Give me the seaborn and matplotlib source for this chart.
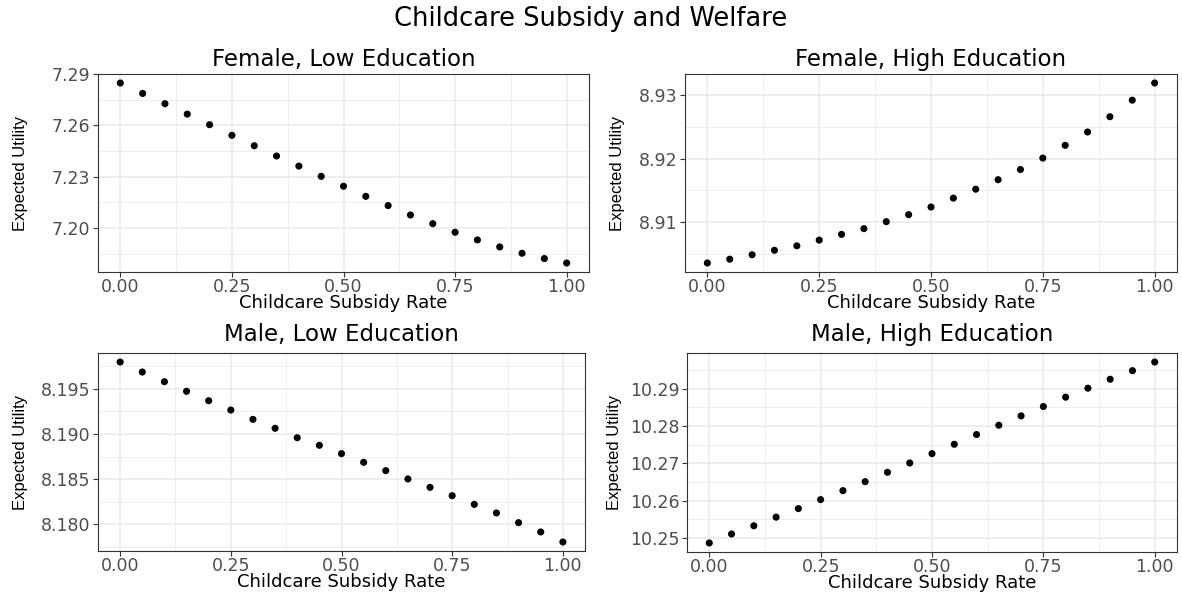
import numpy as np
import pandas as pd
import seaborn as sns
import matplotlib.pyplot as plt
from matplotlib.ticker import FixedLocator, FormatStrFormatter

# Childcare subsidy rates evaluated
subsidy_rate = [0.00, 0.05, 0.10, 0.15, 0.20, 0.25, 0.30, 0.35, 0.40, 0.45, 0.50,
                0.55, 0.60, 0.65, 0.70, 0.75, 0.80, 0.85, 0.90, 0.95, 1.00]

# Expected utility by group
female_low = [7.2848, 7.2787, 7.2727, 7.2666, 7.2604, 7.2542, 7.2481, 7.2421, 7.2362,
              7.2302, 7.2244, 7.2185, 7.2131, 7.2076, 7.2025, 7.1975, 7.1930, 7.1889,
              7.1852, 7.1821, 7.1795]
female_high = [8.9036, 8.9042, 8.9049, 8.9056, 8.9063, 8.9072, 8.9081, 8.9090, 8.9101,
               8.9112, 8.9124, 8.9138, 8.9152, 8.9167, 8.9183, 8.9201, 8.9221, 8.9242,
               8.9266, 8.9292, 8.9319]
male_low = [8.19795, 8.19684, 8.19577, 8.19471, 8.19367, 8.19264, 8.19161, 8.19062,
            8.18958, 8.18874, 8.18782, 8.18686, 8.18594, 8.18502, 8.18409, 8.18317,
            8.18221, 8.18126, 8.18019, 8.17916, 8.17805]
male_high = [10.2487, 10.2511, 10.2533, 10.2556, 10.2579, 10.2603, 10.2627, 10.2651,
             10.2676, 10.2701, 10.2726, 10.2751, 10.2777, 10.2802, 10.2827, 10.2852,
             10.2877, 10.2901, 10.2925, 10.2948, 10.2971]

panel_titles = ["Female, Low Education", "Female, High Education",
                "Male, Low Education", "Male, High Education"]
x_ticks = [0.00, 0.25, 0.50, 0.75, 1.00]
y_ticks = [[7.20, 7.23, 7.26, 7.29],
           [8.91, 8.92, 8.93],
           [8.180, 8.185, 8.190, 8.195],
           [10.25, 10.26, 10.27, 10.28, 10.29]]
y_formats = ["%.2f", "%.2f", "%.3f", "%.2f"]

sns.set_theme(style="white")
plt.rcParams["font.family"] = ["DejaVu Sans"]

fig = plt.figure(figsize=(11.82, 5.96), dpi=100)
W, H = 1182, 596
# panel boxes in pixels: left, top, right, bottom
boxes = [(98, 74, 589, 272), (685, 74, 1177, 272),
         (98, 353, 585, 551), (687, 353, 1177, 552)]
# right edge of the rotated y label, in pixels
ylabel_right = [28, 625, 28, 622]
title_pads = [6, 6, 9, 9]

series = [female_low, female_high, male_low, male_high]
grid_col = "#EBEBEB"
dark = "#333333"

for i, (vals, title) in enumerate(zip(series, panel_titles)):
    l, t, r, b = boxes[i]
    ax = fig.add_axes([l / W, (H - b) / H, (r - l) / W, (b - t) / H])
    df = pd.DataFrame({"rate": subsidy_rate, "utility": vals})
    sns.scatterplot(data=df, x="rate", y="utility", ax=ax, color="black",
                    s=26, edgecolor="none", zorder=3)

    # ggplot-like 5% expansion
    ymin, ymax = min(vals), max(vals)
    pad = (ymax - ymin) * 0.05
    ax.set_ylim(ymin - pad, ymax + pad)
    ax.set_xlim(-0.05, 1.05)

    yt = y_ticks[i]
    step = yt[1] - yt[0]
    minors = [yt[0] - step / 2] + [v + step / 2 for v in yt]
    ax.yaxis.set_major_locator(FixedLocator(yt))
    ax.yaxis.set_minor_locator(FixedLocator(minors))
    ax.yaxis.set_major_formatter(FormatStrFormatter(y_formats[i]))
    ax.xaxis.set_major_locator(FixedLocator(x_ticks))
    ax.xaxis.set_minor_locator(FixedLocator([0.125, 0.375, 0.625, 0.875]))
    ax.xaxis.set_major_formatter(FormatStrFormatter("%.2f"))

    ax.grid(which="major", color=grid_col, linewidth=1.2, zorder=0)
    ax.grid(which="minor", color=grid_col, linewidth=0.6, zorder=0)
    ax.set_axisbelow(True)
    for sp in ax.spines.values():
        sp.set_color(dark)
        sp.set_linewidth(0.8)
        sp.set_visible(True)
    ax.tick_params(which="major", direction="out", length=3.5, width=0.8,
                   color=dark, labelcolor="#4D4D4D", labelsize=12.5, pad=2,
                   bottom=True, left=True)
    ax.tick_params(axis="x", which="major", pad=1)
    ax.tick_params(which="minor", length=0)

    ax.set_xlabel("Childcare Subsidy Rate", fontsize=13, color="black", labelpad=-1.5)
    ax.set_ylabel("Expected Utility", fontsize=12, color="black",
                  family=["Liberation Sans", "DejaVu Sans"])
    ax.yaxis.set_label_coords((ylabel_right[i] - l) / (r - l), 0.5)
    ax.set_title(title, fontsize=16.5, color="black", pad=title_pads[i])

fig.text(0.5, 1 - 19 / H, "Childcare Subsidy and Welfare", ha="center", va="center",
         fontsize=18.5, color="black")

fig.savefig("out.png", dpi=100)
